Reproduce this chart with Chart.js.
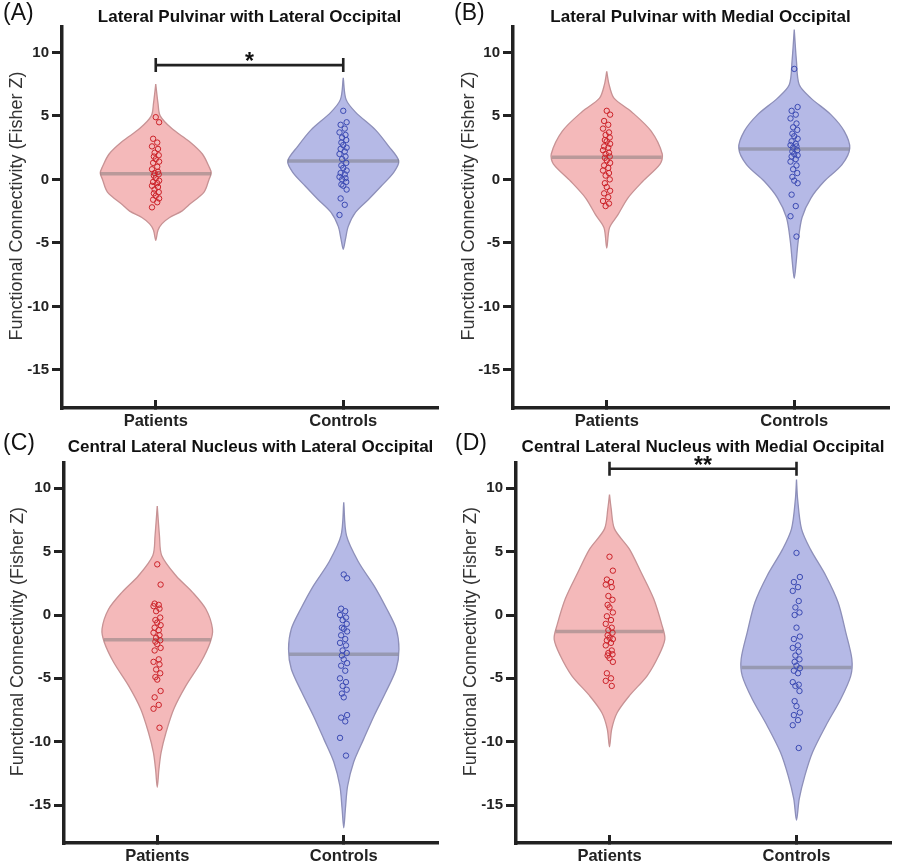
<!DOCTYPE html>
<html>
<head>
<meta charset="utf-8">
<script src="https://cdn.jsdelivr.net/npm/chart.js@4.4.1/dist/chart.umd.min.js"></script>
<style>
  html, body { margin: 0; padding: 0; background: #ffffff; }
  #wrap { position: relative; width: 897px; height: 867px; overflow: hidden; }
  canvas { position: absolute; }
</style>
</head>
<body>
<div id="wrap">
  <canvas id="cA" width="448" height="433" style="left:0px;top:0px"></canvas>
  <canvas id="cB" width="449" height="433" style="left:448px;top:0px"></canvas>
  <canvas id="cC" width="448" height="434" style="left:0px;top:433px"></canvas>
  <canvas id="cD" width="449" height="434" style="left:448px;top:433px"></canvas>
</div>
<script>
// ---------------- DATA ----------------
const categories = ['Patients', 'Controls'];
const yTickValues = [-15, -10, -5, 0, 5, 10];
const panelLetters = ['(A)', '(B)', '(C)', '(D)'];
const panelTitles = [
  'Lateral Pulvinar with Lateral Occipital',
  'Lateral Pulvinar with Medial Occipital',
  'Central Lateral Nucleus with Lateral Occipital',
  'Central Lateral Nucleus with Medial Occipital'
];
const yAxisTitle = 'Functional Connectivity (Fisher Z)';
const sigLabels = ['*', '', '', '**'];
const sigLevels = [9.0, null, null, 11.55];

// individual subject values (Fisher Z)
const A_patients = [4.9, 4.5, 3.2, 2.9, 2.6, 2.4, 2.1, 1.9, 1.8, 1.6, 1.4, 1.3, 1.0, 0.8, 0.6, 0.5, 0.4, 0.3, 0.1, -0.1, -0.2, -0.3, -0.5, -0.6, -0.8, -1.0, -1.1, -1.3, -1.5, -1.6, -1.8, -2.2];
const A_controls = [5.4, 4.5, 4.3, 4.0, 3.7, 3.5, 3.3, 3.1, 2.9, 2.7, 2.5, 2.4, 2.2, 2.0, 1.8, 1.6, 1.3, 1.1, 0.9, 0.7, 0.5, 0.4, 0.2, 0.1, 0.0, -0.2, -0.4, -0.5, -0.8, -1.5, -2.0, -2.8];
const B_patients = [5.4, 5.1, 4.6, 4.3, 4.0, 3.7, 3.5, 3.3, 3.1, 3.0, 2.8, 2.6, 2.5, 2.3, 2.1, 2.0, 1.8, 1.7, 1.5, 1.3, 1.1, 0.9, 0.7, 0.5, 0.3, 0.0, -0.3, -0.6, -0.9, -1.1, -1.4, -1.7, -1.9, -2.1];
const B_controls = [8.7, 5.7, 5.4, 5.1, 4.8, 4.4, 4.1, 3.9, 3.6, 3.4, 3.2, 3.0, 2.8, 2.7, 2.6, 2.5, 2.3, 2.2, 2.0, 1.9, 1.8, 1.6, 1.4, 1.1, 0.8, 0.5, 0.2, -0.1, -0.3, -1.2, -2.1, -2.9, -4.5];
const C_patients = [4.0, 2.4, 0.9, 0.8, 0.7, 0.5, 0.3, -0.2, -0.4, -0.6, -0.8, -1.0, -1.2, -1.4, -1.6, -1.8, -2.0, -2.1, -2.3, -2.6, -2.8, -3.5, -3.7, -3.9, -4.3, -4.6, -4.9, -5.1, -6.0, -6.5, -7.1, -7.4, -8.9];
const C_controls = [3.2, 2.9, 0.5, 0.3, 0.0, -0.2, -0.4, -0.7, -1.0, -1.1, -1.3, -1.6, -1.9, -2.2, -2.4, -2.8, -3.0, -3.2, -3.5, -3.8, -4.0, -4.4, -5.0, -5.3, -5.6, -5.9, -6.2, -6.5, -7.9, -8.1, -8.4, -9.7, -11.1];
const D_patients = [4.6, 3.5, 2.8, 2.6, 2.4, 2.2, 1.5, 1.2, 0.8, 0.6, 0.2, -0.1, -0.4, -0.7, -1.0, -1.2, -1.4, -1.6, -1.8, -1.9, -2.0, -2.2, -2.4, -2.8, -3.0, -3.1, -3.2, -3.4, -3.7, -4.6, -5.0, -5.2, -5.6];
const D_controls = [4.9, 3.0, 2.6, 2.2, 1.9, 1.1, 0.6, 0.2, 0.0, -1.0, -1.7, -1.9, -2.4, -2.6, -2.9, -3.2, -3.5, -3.7, -4.0, -4.2, -4.4, -4.6, -5.3, -5.5, -5.6, -6.0, -6.8, -7.2, -7.7, -7.9, -8.3, -8.7, -10.5];

// medians (per panel: patients, controls)
const medianPatients = [0.45, 1.75, -1.95, -1.3];
const medianControls = [1.45, 2.4, -3.1, -4.15];

// violin outlines: value levels and relative density (1 = widest)
const A_patientsShapeY = [7.5, 6, 5, 4, 3, 2, 1, 0.5, 0, -1, -2, -2.5, -3, -3.5, -4, -4.8];
const A_patientsShapeD = [0, 0.04, 0.08, 0.29, 0.6, 0.84, 0.96, 1, 0.96, 0.87, 0.6, 0.47, 0.25, 0.11, 0.04, 0];
const A_controlsShapeY = [8.0, 6.3, 5.3, 3.9, 2.6, 1.45, 0.55, -0.5, -1.6, -2.6, -3.7, -4.7, -5.5];
const A_controlsShapeD = [0, 0.05, 0.22, 0.58, 0.82, 1, 0.91, 0.69, 0.45, 0.22, 0.09, 0.04, 0];
const B_patientsShapeY = [8.5, 7.5, 6.4, 5.35, 3.8, 2.0, 1.2, -0.15, -1.47, -2.8, -3.8, -5.4];
const B_patientsShapeD = [0, 0.04, 0.13, 0.44, 0.8, 1, 0.96, 0.65, 0.38, 0.2, 0.05, 0];
const B_controlsShapeY = [11.8, 9.3, 7.45, 6.4, 5.1, 3.8, 2.46, 1.16, -0.15, -1.47, -3.0, -4.9, -6.5, -7.8];
const B_controlsShapeD = [0, 0.04, 0.09, 0.3, 0.66, 0.9, 1, 0.86, 0.54, 0.3, 0.14, 0.07, 0.035, 0];
const C_patientsShapeY = [8.6, 6.26, 4.7, 3.1, 1.79, 0.47, -1.1, -2.15, -3.73, -5.58, -7.42, -9.26, -10.85, -12.2, -13.6];
const C_patientsShapeD = [0, 0.04, 0.08, 0.34, 0.64, 0.88, 1, 0.96, 0.79, 0.52, 0.3, 0.16, 0.07, 0.03, 0];
const C_controlsShapeY = [8.9, 6.26, 4.16, 2.3, 0.47, -1.1, -2.7, -4.26, -6.1, -7.95, -9.8, -11.6, -13.5, -15.3, -16.8];
const C_controlsShapeD = [0, 0.05, 0.27, 0.55, 0.78, 0.95, 1, 0.95, 0.76, 0.55, 0.36, 0.18, 0.07, 0.03, 0];
const D_patientsShapeY = [9.5, 8.4, 6.8, 5.2, 3.37, 1.26, -0.84, -1.9, -3.2, -4.8, -6.37, -7.7, -9.0, -10.4];
const D_patientsShapeD = [0, 0.03, 0.09, 0.36, 0.57, 0.8, 0.95, 1, 0.89, 0.68, 0.36, 0.14, 0.04, 0];
const D_controlsShapeY = [10.7, 9.15, 6.8, 5.2, 3.1, 1.0, -1.37, -3.47, -4.8, -6.63, -8.74, -10.84, -12.7, -14.5, -16.2];
const D_controlsShapeD = [0, 0.02, 0.09, 0.25, 0.53, 0.75, 0.89, 1, 0.98, 0.8, 0.53, 0.29, 0.15, 0.05, 0];

// ---------------- STYLE / LAYOUT ----------------
const FONT = 'Arial, "Liberation Sans", Helvetica, sans-serif';
Chart.defaults.font.family = FONT;
const Y_MIN = -18, Y_MAX = 12;
const HALF_MAX = 0.148;           // widest half-width of a violin (x units)
const JITTER = [0, 0.009, -0.007, 0.004, -0.010, 0.006, -0.003, 0.008, -0.005];
const COLORS = {
  fill:   ['#F4B9BA', '#B5B9E6'],
  border: ['#C79294', '#8D8FB9'],
  point:  ['#CC2229', '#3B4AB3'],
  median: 'rgba(115,115,115,0.45)'
};
const layouts = [
  { id: 'cA', yW: 62, pr: 11, pt: 27, xH: 25, letterX: 3, letterY: 14, titleY: 17, yTitleX: 17 },
  { id: 'cB', yW: 65, pr: 9,  pt: 27, xH: 25, letterX: 6, letterY: 14, titleY: 17, yTitleX: 21 },
  { id: 'cC', yW: 64, pr: 11, pt: 30, xH: 24, letterX: 3, letterY: 11, titleY: 14, yTitleX: 18 },
  { id: 'cD', yW: 68, pr: 7,  pt: 30, xH: 24, letterX: 7, letterY: 11, titleY: 14, yTitleX: 23 }
];
const panelData = [
  { groups: [A_patients, A_controls], shapes: [[A_patientsShapeY, A_patientsShapeD], [A_controlsShapeY, A_controlsShapeD]] },
  { groups: [B_patients, B_controls], shapes: [[B_patientsShapeY, B_patientsShapeD], [B_controlsShapeY, B_controlsShapeD]] },
  { groups: [C_patients, C_controls], shapes: [[C_patientsShapeY, C_patientsShapeD], [C_controlsShapeY, C_controlsShapeD]] },
  { groups: [D_patients, D_controls], shapes: [[D_patientsShapeY, D_patientsShapeD], [D_controlsShapeY, D_controlsShapeD]] }
];

function catPos(i) { return (i + 0.5) / categories.length; }

function densityAt(ys, ds, v) {
  for (let i = 0; i < ys.length - 1; i++) {
    const a = ys[i], b = ys[i + 1];
    if ((v <= a && v >= b) || (v >= a && v <= b)) {
      const t = (v - a) / (b - a);
      return ds[i] + t * (ds[i + 1] - ds[i]);
    }
  }
  return 0;
}

function outline(center, ys, ds) {
  const pts = ys.map((y, i) => ({ x: center - ds[i] * HALF_MAX, y }));
  for (let i = ys.length - 2; i >= 0; i--) pts.push({ x: center + ds[i] * HALF_MAX, y: ys[i] });
  return pts;
}

const textPlugin = {
  id: 'panelText',
  afterDraw(chart, args, o) {
    const { ctx, chartArea, scales } = chart;
    ctx.save();
    ctx.fillStyle = '#111';
    ctx.textBaseline = 'middle';
    ctx.textAlign = 'left';
    ctx.font = '23px ' + FONT;
    ctx.fillText(o.letter, o.letterX, o.letterY);
    ctx.textAlign = 'center';
    ctx.font = 'bold 17px ' + FONT;
    ctx.fillText(o.title, (chartArea.left + chartArea.right) / 2, o.titleY);
    // y axis title
    ctx.save();
    ctx.translate(o.yTitleX, scales.y.getPixelForValue(-2.1));
    ctx.rotate(-Math.PI / 2);
    ctx.fillStyle = '#333';
    ctx.font = '18px ' + FONT;
    ctx.fillText(yAxisTitle, 0, 0);
    ctx.restore();
    // significance bracket
    if (o.sigLabel) {
      const x1 = scales.x.getPixelForValue(catPos(0));
      const x2 = scales.x.getPixelForValue(catPos(1));
      const y = scales.y.getPixelForValue(o.sigLevel);
      ctx.strokeStyle = '#222';
      ctx.lineWidth = 2.6;
      ctx.beginPath();
      ctx.moveTo(x1, y); ctx.lineTo(x2, y);
      ctx.moveTo(x1, y - 7); ctx.lineTo(x1, y + 7);
      ctx.moveTo(x2, y - 7); ctx.lineTo(x2, y + 7);
      ctx.stroke();
      ctx.fillStyle = '#111';
      ctx.font = 'bold 23px ' + FONT;
      ctx.textBaseline = 'alphabetic';
      ctx.fillText(o.sigLabel, (x1 + x2) / 2, y + 4);
    }
    ctx.restore();
  }
};

panelData.forEach((pd, p) => {
  const L = layouts[p];
  const datasets = [];
  const medians = [medianPatients[p], medianControls[p]];
  pd.groups.forEach((vals, g) => {
    const c = catPos(g);
    const [sy, sd] = pd.shapes[g];
    datasets.push({
      label: categories[g] + ' violin',
      data: outline(c, sy, sd),
      showLine: true, fill: 'shape', tension: 0.3,
      backgroundColor: COLORS.fill[g], borderColor: COLORS.border[g], borderWidth: 1.3,
      pointRadius: 0, order: 3
    });
    const hw = densityAt(sy, sd, medians[g]) * HALF_MAX;
    datasets.push({
      label: categories[g] + ' median',
      data: [{ x: c - hw, y: medians[g] }, { x: c + hw, y: medians[g] }],
      showLine: true, fill: false, borderColor: COLORS.median, borderWidth: 3.5,
      borderCapStyle: 'butt', pointRadius: 0, order: 2
    });
    datasets.push({
      label: categories[g],
      data: vals.map((v, i) => ({ x: c + JITTER[i % JITTER.length], y: v })),
      showLine: false, pointStyle: 'circle', pointRadius: 2.7, borderWidth: 1,
      borderColor: COLORS.point[g], backgroundColor: 'rgba(0,0,0,0)', order: 1
    });
  });

  new Chart(document.getElementById(L.id), {
    type: 'scatter',
    data: { datasets },
    options: {
      responsive: false, animation: false, events: [],
      layout: { padding: { left: 0, right: L.pr, top: L.pt, bottom: 0 } },
      plugins: {
        legend: { display: false }, tooltip: { enabled: false }, title: { display: false },
        panelText: {
          letter: panelLetters[p], title: panelTitles[p], sigLabel: sigLabels[p], sigLevel: sigLevels[p],
          letterX: L.letterX, letterY: L.letterY, titleY: L.titleY, yTitleX: L.yTitleX
        }
      },
      scales: {
        x: {
          type: 'linear', min: 0, max: 1,
          afterBuildTicks: s => { s.ticks = categories.map((c, i) => ({ value: catPos(i) })); },
          afterFit: s => { s.height = L.xH; },
          grid: { drawOnChartArea: false, drawTicks: true, tickLength: -8, lineWidth: 3, color: '#222' },
          border: { display: true, width: 3.5, color: '#222' },
          ticks: {
            callback: v => categories[Math.floor(v * categories.length)],
            font: { size: 16.5, weight: 'bold' }, color: '#222', padding: 12,
            maxRotation: 0, autoSkip: false
          }
        },
        y: {
          type: 'linear', min: Y_MIN, max: Y_MAX,
          afterBuildTicks: s => { s.ticks = yTickValues.map(v => ({ value: v })); },
          afterFit: s => { s.width = L.yW; },
          grid: { drawOnChartArea: false, drawTicks: true, tickLength: 10, lineWidth: 3, color: '#222' },
          border: { display: true, width: 3.5, color: '#222' },
          ticks: { font: { size: 15, weight: 'bold' }, color: '#222', padding: 3 }
        }
      }
    },
    plugins: [textPlugin]
  });
});
</script>
</body>
</html>
